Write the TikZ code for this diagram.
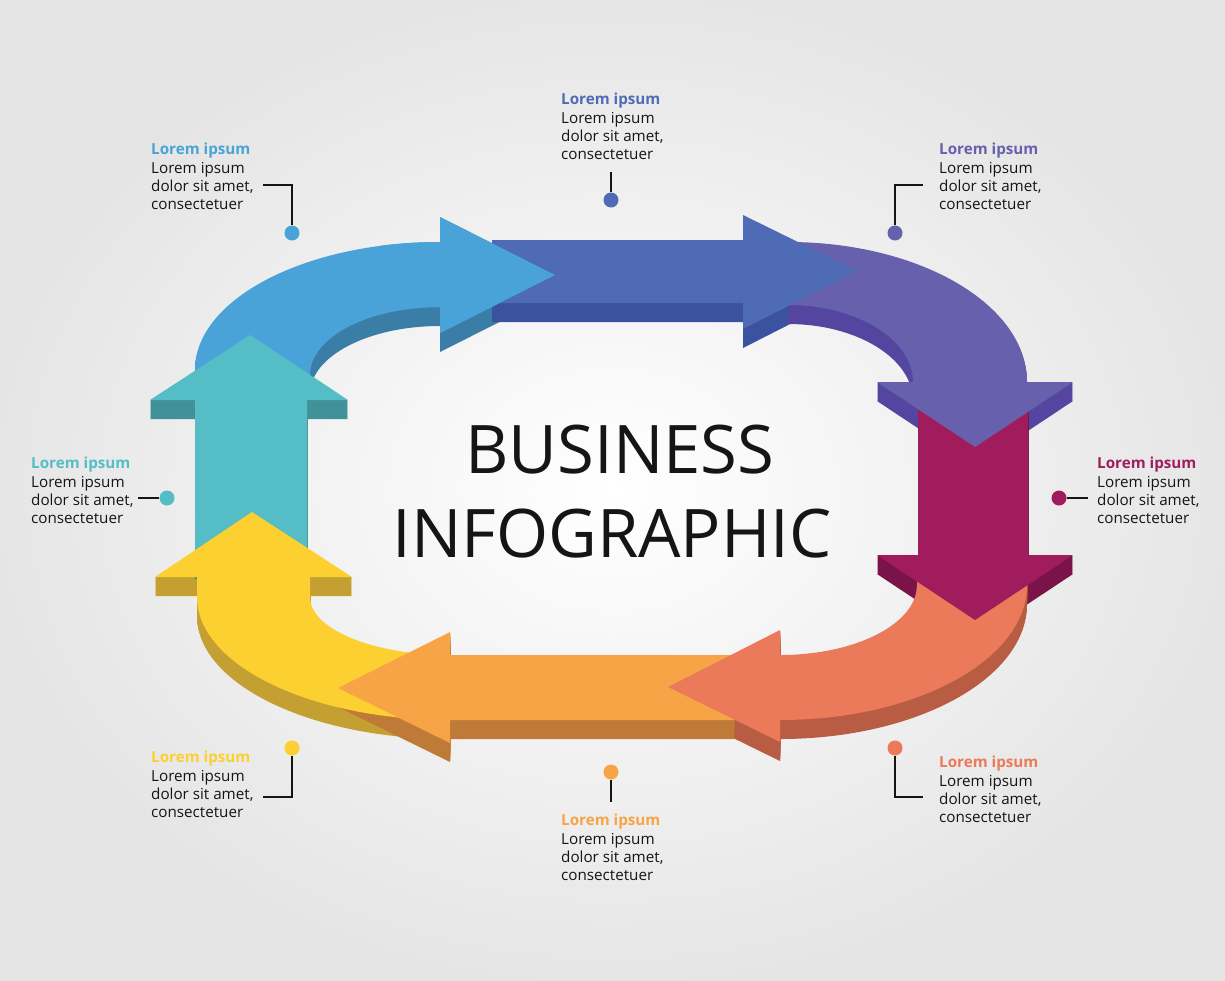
\documentclass[tikz,border=0pt]{standalone}
\usepackage{fontspec}
\setmainfont{Open Sans}
\usepackage{tikz}
\usetikzlibrary{positioning, calc}

\definecolor{cBlue}{HTML}{4AA3D8}
\definecolor{cBlueS}{HTML}{3A7EA8}
\definecolor{cIndigo}{HTML}{4F6BB5}
\definecolor{cIndigoS}{HTML}{3A52A0}
\definecolor{cPurple}{HTML}{6760AC}
\definecolor{cPurpleS}{HTML}{5446A0}
\definecolor{cMagenta}{HTML}{A01C5C}
\definecolor{cMagentaS}{HTML}{7A1448}
\definecolor{cCoral}{HTML}{EB7A5A}
\definecolor{cCoralS}{HTML}{B85C44}
\definecolor{cOrange}{HTML}{F7A447}
\definecolor{cOrangeS}{HTML}{C07A38}
\definecolor{cYellow}{HTML}{FCD030}
\definecolor{cYellowS}{HTML}{C4A032}
\definecolor{cTeal}{HTML}{55BDC6}
\definecolor{cTealS}{HTML}{409198}
\definecolor{cInk}{HTML}{151515}

% outlines of the eight arrow pieces
\newcommand{\pBlue}{(195,395) -- (195,370) .. controls (195,299.3) and (304.7,242) .. (440,242) -- (440,217) -- (555,275) -- (440,333) -- (440,307) .. controls (368.2,307) and (310,337.4) .. (310,375) -- (310,395) -- cycle}
\newcommand{\pIndigo}{(492,240) -- (743,240) -- (743,215) -- (857,271) -- (743,329) -- (743,303) -- (492,303) -- cycle}
\newcommand{\pPurple}{(788,242) .. controls (920,242) and (1027,304.7) .. (1027,382) -- (1073,382) -- (975,447) -- (877,382) -- (913,382) .. controls (913,339.5) and (857,305) .. (788,305) -- cycle}
\newcommand{\pMagenta}{(918,395) -- (918,555) -- (877,555) -- (975,620) -- (1073,555) -- (1028,555) -- (1028,395) -- cycle}
\newcommand{\pCoral}{(917,565) -- (1027,565) -- (1027,585) .. controls (1027,659.6) and (916.4,720) .. (780,720) -- (780,742) -- (668,687) -- (780,630) -- (780,655) .. controls (855.7,655) and (917,623.7) .. (917,585) -- cycle}
\newcommand{\pOrange}{(734,655) -- (450,655) -- (450,632) -- (338,688) -- (450,743) -- (450,720) -- (734,720) -- cycle}
\newcommand{\pYellow}{(450,720) .. controls (310.3,720) and (197,664.9) .. (197,597) -- (197,577) -- (155,577) -- (252,512) -- (352,577) -- (310,577) -- (310,597) .. controls (310,629) and (372.7,655) .. (450,655) -- cycle}
\newcommand{\pTeal}{(195,560) -- (195,400) -- (150,400) -- (250,335) -- (348,400) -- (307,400) -- (307,560) -- cycle}

% thickness: the outline swept downwards
\newcommand{\slab}[2]{\foreach \t in {1,...,19}{\fill[#1, shift={(0,\t)}] #2;}}

\tikzset{
  lbl/.style={font=\fontsize{15.2}{18.3}\selectfont, align=left, inner sep=0pt, text=cInk, anchor=north west},
  title/.style={font=\fontsize{67}{80}\selectfont, inner sep=0pt, text=cInk, anchor=base},
  dot/.style={circle, fill=#1, minimum size=15pt, inner sep=0pt},
  lead/.style={draw=cInk, line width=1.4pt},
}
\newcommand{\hd}[1]{\textcolor{#1}{\textbf{Lorem ipsum}}}

\begin{document}
\begin{tikzpicture}[x=1pt, y=-1pt]
  % background
  \useasboundingbox (0,0) rectangle (1225,980);
  \fill[inner color=white, outer color=black!10] (0,0) rectangle (1225,980);

  % sides
  \slab{cBlueS}{\pBlue}
  \slab{cIndigoS}{\pIndigo}
  \slab{cPurpleS}{\pPurple}
  \slab{cMagentaS}{\pMagenta}
  \slab{cCoralS}{\pCoral}
  \slab{cYellowS}{\pYellow}
  \slab{cOrangeS}{\pOrange}
  \slab{cTealS}{\pTeal}

  % tops
  \fill[cBlue] \pBlue;
  \fill[cTeal] \pTeal;
  \fill[cYellow] \pYellow;
  \fill[cOrange] \pOrange;
  \fill[cCoral] \pCoral;
  \fill[cMagenta] \pMagenta;
  \fill[cPurple] \pPurple;
  \fill[cIndigo] \pIndigo;
  \begin{scope}
    \clip (380,150) rectangle (600,400);
    \fill[cBlue] \pBlue;
  \end{scope}

  % title
  \node[title] (tBiz) at (620,473) {BUSINESS};
  \node[title] (tInfo) at (612,557) {INFOGRAPHIC};

  % labels
  \node[lbl] (tTL) at (151,143) {\hd{cBlue}\\Lorem ipsum\\dolor sit amet,\\consectetuer};
  \node[lbl] (tT) at (561,93) {\hd{cIndigo}\\Lorem ipsum\\dolor sit amet,\\consectetuer};
  \node[lbl] (tTR) at (939,143) {\hd{cPurple}\\Lorem ipsum\\dolor sit amet,\\consectetuer};
  \node[lbl] (tR) at (1097,457) {\hd{cMagenta}\\Lorem ipsum\\dolor sit amet,\\consectetuer};
  \node[lbl] (tBR) at (939,756) {\hd{cCoral}\\Lorem ipsum\\dolor sit amet,\\consectetuer};
  \node[lbl] (tB) at (561,814) {\hd{cOrange}\\Lorem ipsum\\dolor sit amet,\\consectetuer};
  \node[lbl] (tBL) at (151,751) {\hd{cYellow}\\Lorem ipsum\\dolor sit amet,\\consectetuer};
  \node[lbl] (tL) at (31,457) {\hd{cTeal}\\Lorem ipsum\\dolor sit amet,\\consectetuer};

  % dots
  \node[dot=cBlue] (dTL) at (292,233) {};
  \node[dot=cIndigo] (dT) at (611,200) {};
  \node[dot=cPurple] (dTR) at (895,233) {};
  \node[dot=cMagenta] (dR) at (1059,498) {};
  \node[dot=cCoral] (dBR) at (895,748) {};
  \node[dot=cOrange] (dB) at (611,772) {};
  \node[dot=cYellow] (dBL) at (292,748) {};
  \node[dot=cTeal] (dL) at (167,498) {};

  % leader ends
  \coordinate (eTL) at (263,185);
  \coordinate (eT) at (611,172);
  \coordinate (eTR) at (923,185);
  \coordinate (eR) at (1088,498);
  \coordinate (eBR) at (923,797);
  \coordinate (eB) at (611,802);
  \coordinate (eBL) at (263,797);
  \coordinate (eL) at (138,498);

  % leaders
  \draw[lead] (dTL) |- (eTL);
  \draw[lead] (dT) -- (eT);
  \draw[lead] (dTR) |- (eTR);
  \draw[lead] (dR) -- (eR);
  \draw[lead] (dBR) |- (eBR);
  \draw[lead] (dB) -- (eB);
  \draw[lead] (dBL) |- (eBL);
  \draw[lead] (dL) -- (eL);
\end{tikzpicture}
\end{document}
